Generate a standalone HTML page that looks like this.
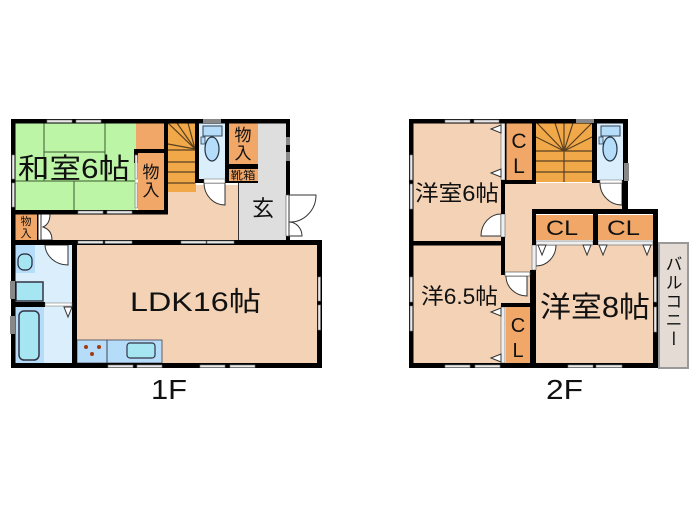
<!DOCTYPE html>
<html lang="ja"><head><meta charset="utf-8"><style>
html,body{margin:0;padding:0;background:#fff}
svg{display:block}
text{font-family:"Liberation Sans","Noto Sans CJK JP",sans-serif;fill:#111}
</style></head><body>
<svg width="700" height="525" viewBox="0 0 700 525" xmlns="http://www.w3.org/2000/svg">
<defs>
<g id="tri"><path d="M-10 0L0 -4V4Z" fill="#fff" stroke="#333" stroke-width="1"/></g>
<g id="trd"><path d="M-4 0L4 0L0 10Z" fill="#fff" stroke="#333" stroke-width="1"/></g>
</defs>
<!-- 1F floors -->
<rect x="15" y="123" width="121" height="87" fill="#bdf5a6"/>
<g stroke="#3a5a30" stroke-width="1" fill="none">
<path d="M44 123V181M105 123V181M44 152H105M15 181H135M74 181V210"/>
</g>
<rect x="136" y="123" width="28" height="26" fill="#f0a768"/>
<rect x="138" y="153" width="26" height="57" fill="#f0a768"/>
<rect x="15" y="214" width="22" height="27" fill="#f0a768"/>
<rect x="37" y="214" width="201" height="27" fill="#f3d2b5"/>
<rect x="168" y="185" width="70" height="32" fill="#f3d2b5"/>
<rect x="168" y="123" width="28" height="69" fill="#f0a848"/>
<g stroke="#5a4020" stroke-width="1.2" fill="none">
<path d="M168 123L195 149M168 144L195 149M168 150H195M168 162H195M168 172H195M168 183H195M188 123L195 149M177 123L195 149"/>
</g>
<rect x="199" y="123" width="26" height="57" fill="#dbeefc"/>
<rect x="238" y="123" width="48" height="118" fill="#dedede"/>
<rect x="229" y="123" width="29" height="41" fill="#f0a768"/>
<rect x="229" y="169" width="29" height="12" fill="#f0a768"/>
<rect x="238" y="181" width="1" height="60" fill="#333"/>
<rect x="77" y="245" width="240" height="118" fill="#f3d2b5"/>
<rect x="15" y="245" width="57" height="118" fill="#dbeefc"/>
<rect x="15" y="307" width="29" height="56" fill="#b5dcf8"/>
<rect x="15" y="245" width="20" height="28" fill="#b5dcf8"/>
<!-- fixtures 1F -->
<rect x="18" y="254" width="14" height="16" rx="6" fill="#a5e6f2" stroke="#223" stroke-width="1.2"/>
<rect x="16" y="282" width="27" height="19" fill="#a5e6f2" stroke="#334" stroke-width="1.5"/>
<rect x="19" y="311" width="20" height="49" rx="5" fill="#a5e6f2" stroke="#334" stroke-width="1.5"/>
<rect x="77" y="340" width="85" height="23" fill="#b5dcf8" stroke="#445" stroke-width=".8"/>
<path d="M107 340V363" stroke="#445"/>
<rect x="127" y="343" width="28" height="15" rx="3" fill="#a5e6f2" stroke="#334" stroke-width="1.2"/>
<circle cx="86" cy="347" r="2" fill="#a33a10"/><circle cx="99" cy="347" r="2" fill="#a33a10"/><circle cx="92" cy="354" r="2" fill="#a33a10"/>
<!-- toilets -->
<g id="wc">
<rect x="203" y="126" width="19" height="10" fill="#b5dcf8" stroke="#345" stroke-width="1"/>
<rect x="201" y="137" width="4" height="7" fill="#b5dcf8" stroke="#345" stroke-width=".8"/>
<ellipse cx="212" cy="149" rx="7" ry="12" fill="#b5dcf8" stroke="#234" stroke-width="1.2"/>
</g>
<use href="#wc" x="398"/>
<!-- 1F doors -->
<path d="M204 183A21 22 0 0 0 225 205V183Z" fill="#fff" stroke="#333"/>
<path d="M45 245A23 21 0 0 0 68 265V245Z" fill="#fff" stroke="#333"/>
<path d="M38 214H41V240H38Z" fill="#fff" stroke="#555" stroke-width=".6"/>
<path d="M41 214H50Q50 224 43 227Q52 230 52 240H41Z" fill="#fff" stroke="#333"/>
<!-- 1F walls -->
<g fill="#000">
<rect x="11" y="119" width="279" height="4.5"/>
<rect x="11" y="119" width="4.5" height="249"/>
<rect x="11" y="210" width="157" height="4.5"/>
<rect x="134" y="149" width="34" height="4"/>
<rect x="134" y="149" width="4" height="14"/>
<rect x="164" y="123" width="4" height="91"/>
<rect x="195" y="123" width="4" height="60"/>
<rect x="195" y="179" width="9" height="4"/>
<rect x="225" y="123" width="4" height="60"/>
<rect x="229" y="164" width="29" height="5"/>
<rect x="229" y="181" width="29" height="2"/>
<rect x="286" y="119" width="4" height="76"/>
<rect x="286" y="236" width="4" height="8"/>
<rect x="11" y="240" width="63" height="5"/>
<rect x="73" y="240" width="249" height="5"/>
<rect x="72" y="240" width="5" height="128"/>
<rect x="317" y="240" width="5" height="128"/>
<rect x="11" y="363" width="311" height="5"/>
<rect x="15" y="302" width="30" height="5"/>
<rect x="11" y="214" width="4" height="27"/>
<rect x="37" y="214" width="1.5" height="27"/>
</g>
<rect x="204" y="179" width="21" height="4" fill="#fff" stroke="#666" stroke-width=".5"/>
<rect x="45" y="303" width="27" height="3" fill="#fff" stroke="#666" stroke-width=".5"/>
<use href="#trd" x="68" y="307"/>
<rect x="286" y="195" width="3" height="41" fill="#fff" stroke="#555" stroke-width=".6"/>
<path d="M289 195H316A26 27 0 0 1 289 222Z" fill="#fff" stroke="#333"/>
<path d="M289 222A13 14 0 0 1 302 236H289Z" fill="#fff" stroke="#333"/>
<!-- 1F windows -->
<g fill="#e9e9e9" stroke="#777" stroke-width=".6">
<rect x="47" y="120" width="25" height="2.5"/><rect x="76" y="120" width="25" height="2.5"/>
<rect x="12" y="155" width="2.5" height="24"/><rect x="12" y="183" width="2.5" height="24"/>
<rect x="135" y="155" width="2.5" height="24"/><rect x="135" y="183" width="2.5" height="25"/>
<rect x="78" y="211" width="25" height="2.5"/><rect x="107" y="211" width="25" height="2.5"/>
<rect x="78" y="241" width="25" height="2.5"/><rect x="105" y="241" width="27" height="2.5"/>
<rect x="181" y="241" width="25" height="2.5"/><rect x="207" y="241" width="27" height="2.5"/>
<rect x="318" y="277" width="2.5" height="24"/><rect x="318" y="305" width="2.5" height="25"/>
<rect x="108" y="365" width="25" height="2.5"/><rect x="137" y="365" width="25" height="2.5"/>
<rect x="200" y="365" width="25" height="2.5"/><rect x="230" y="365" width="25" height="2.5"/>
</g>
<!-- 2F floors -->
<rect x="413" y="123" width="88" height="118" fill="#f3d2b5"/>
<rect x="505" y="183" width="120" height="27" fill="#f3d2b5"/>
<rect x="505" y="210" width="27" height="62" fill="#f3d2b5"/>
<rect x="413" y="245" width="88" height="118" fill="#f3d2b5"/>
<rect x="500" y="272" width="30" height="31" fill="#f3d2b5"/>
<rect x="536" y="245" width="117" height="118" fill="#f3d2b5"/>
<rect x="506" y="123" width="26" height="57" fill="#f0a768"/>
<rect x="506" y="307" width="24" height="56" fill="#f0a768"/>
<rect x="536" y="215" width="57" height="25" fill="#f0a768"/>
<rect x="598" y="215" width="55" height="25" fill="#f0a768"/>
<rect x="536" y="123" width="56" height="59" fill="#f0a848"/>
<g stroke="#5a4020" stroke-width="1.2" fill="none">
<path d="M564 123V182M564 151L537 123M564 151L555 123M564 151L573 123M564 151L592 123M564 151L536 137M564 151L592 137M536 151H592M536 161H592M536 172H592"/>
</g>
<rect x="597" y="123" width="26" height="57" fill="#dbeefc"/>
<use href="#wc" x="398"/>
<rect x="659" y="243" width="29" height="125" fill="#e3dbd4" stroke="#999" stroke-width="2"/>
<!-- 2F doors -->
<path d="M501 214A20 22 0 0 0 481 236H501Z" fill="#fff" stroke="#333"/>
<path d="M506 276A21 20 0 0 0 527 296V276Z" fill="#fff" stroke="#333"/>
<path d="M536 245H556A20 21 0 0 1 536 266Z" fill="#fff" stroke="#333"/>
<path d="M600 183A22 22 0 0 0 622 205V183Z" fill="#fff" stroke="#333"/>
<!-- 2F white strips -->
<g fill="#eee" stroke="#666" stroke-width=".6">
<rect x="501" y="123" width="4" height="57"/><rect x="501" y="307" width="4" height="56"/>
<rect x="501" y="214" width="4" height="23"/>
<rect x="532" y="245" width="4" height="25"/>
<rect x="536" y="241" width="57" height="4"/><rect x="598" y="241" width="55" height="4"/>
</g>
<!-- 2F walls -->
<g fill="#000">
<rect x="409" y="119" width="219" height="4.5"/>
<rect x="409" y="119" width="4.5" height="249"/>
<rect x="409" y="241" width="96" height="4.5"/>
<rect x="505" y="119" width="1.5" height="64"/>
<rect x="501" y="180" width="35" height="4"/>
<rect x="501" y="180" width="4" height="34"/>
<rect x="501" y="237" width="4" height="38"/>
<rect x="532" y="119" width="4" height="65"/>
<rect x="592" y="119" width="5" height="64"/>
<rect x="592" y="180" width="8" height="3"/>
<rect x="623" y="119" width="5" height="64"/>
<rect x="622" y="180" width="6" height="34"/>
<rect x="532" y="209" width="126" height="5"/>
<rect x="532" y="209" width="4" height="36"/>
<rect x="593" y="209" width="5" height="36"/>
<rect x="653" y="209" width="5" height="159"/>
<rect x="530" y="270" width="6" height="98"/>
<rect x="501" y="303" width="33" height="4"/>
<rect x="409" y="363" width="249" height="5"/>
</g>
<rect x="505" y="272" width="25" height="4" fill="#fff" stroke="#444" stroke-width=".6"/>
<rect x="600" y="180" width="22" height="3" fill="#fff" stroke="#666" stroke-width=".5"/>
<g>
<use href="#tri" x="501" y="129"/><use href="#tri" x="501" y="173"/>
<use href="#tri" x="501" y="312"/><use href="#tri" x="501" y="358"/>
<use href="#trd" x="542" y="245"/><use href="#trd" x="587" y="245"/><use href="#trd" x="603" y="245"/><use href="#trd" x="647" y="245"/>
</g>
<g fill="#e9e9e9" stroke="#777" stroke-width=".6">
<rect x="445" y="120" width="25" height="2.5"/><rect x="474" y="120" width="25" height="2.5"/>
<rect x="410" y="155" width="2.5" height="25"/><rect x="410" y="184" width="2.5" height="25"/>
<rect x="410" y="277" width="2.5" height="25"/><rect x="410" y="306" width="2.5" height="25"/>
<rect x="445" y="365" width="25" height="2.5"/><rect x="475" y="365" width="25" height="2.5"/>
<rect x="568" y="365" width="25" height="2.5"/><rect x="596" y="365" width="26" height="2.5"/>
<rect x="654" y="277" width="2.5" height="25"/><rect x="654" y="307" width="2.5" height="25"/>
</g>
<g fill="#888">
<rect x="203" y="119" width="18" height="4"/>
<rect x="286" y="137" width="4" height="8"/><rect x="286" y="152" width="4" height="9"/>
<rect x="10" y="281" width="5" height="18"/><rect x="10" y="316" width="5" height="18"/>
<rect x="576" y="119" width="18" height="4"/>
<rect x="624" y="163" width="5" height="18"/>
</g>
<!-- labels -->
<text x="18" y="178" font-size="28" textLength="112" lengthAdjust="spacingAndGlyphs">和室6帖</text>
<text x="151" y="178" font-size="17" text-anchor="middle">物</text><text x="151" y="196" font-size="17" text-anchor="middle">入</text>
<text x="26" y="225" font-size="11" text-anchor="middle">物</text><text x="26" y="237" font-size="11" text-anchor="middle">入</text>
<text x="243" y="141" font-size="17" text-anchor="middle">物</text><text x="243" y="159" font-size="17" text-anchor="middle">入</text>
<text x="243" y="179" font-size="11" text-anchor="middle" textLength="25" lengthAdjust="spacingAndGlyphs">靴箱</text>
<text x="263" y="216" font-size="22" text-anchor="middle">玄</text>
<text x="130" y="311" font-size="27" textLength="131" lengthAdjust="spacingAndGlyphs">LDK16帖</text>
<text x="151" y="399" font-size="28" textLength="36" lengthAdjust="spacingAndGlyphs">1F</text>
<text x="546" y="399" font-size="28" textLength="37" lengthAdjust="spacingAndGlyphs">2F</text>
<text x="415" y="201" font-size="22" textLength="84" lengthAdjust="spacingAndGlyphs">洋室6帖</text>
<text x="421" y="304" font-size="22" textLength="77" lengthAdjust="spacingAndGlyphs">洋6.5帖</text>
<text x="540" y="317" font-size="29" textLength="110" lengthAdjust="spacingAndGlyphs">洋室8帖</text>
<text x="519" y="148" font-size="21" text-anchor="middle">C</text><text x="519" y="173" font-size="21" text-anchor="middle">L</text>
<text x="518" y="332" font-size="20" text-anchor="middle">C</text><text x="518" y="357" font-size="20" text-anchor="middle">L</text>
<text x="546" y="235" font-size="21" textLength="32" lengthAdjust="spacingAndGlyphs">CL</text>
<text x="607" y="235" font-size="21" textLength="33" lengthAdjust="spacingAndGlyphs">CL</text>
<text x="672" y="255" font-size="17" style="writing-mode:vertical-rl" text-anchor="start" textLength="92" lengthAdjust="spacing" dominant-baseline="central">バルコニー</text>
</svg>
</body></html>
